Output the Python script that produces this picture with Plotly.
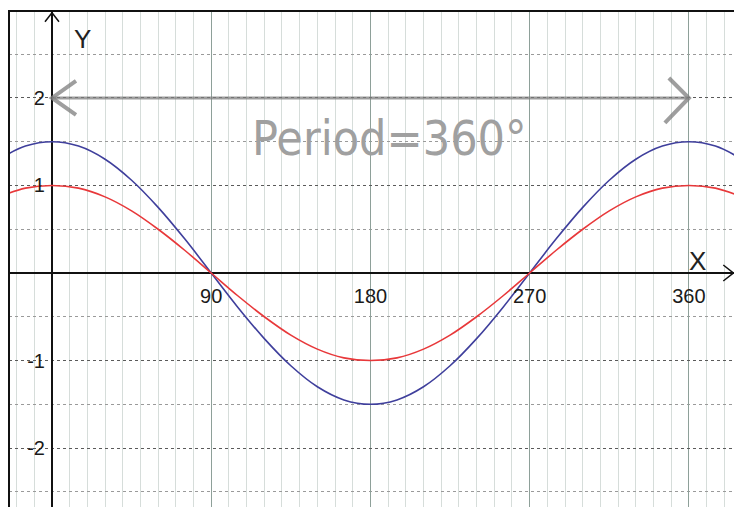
import plotly.graph_objects as go

# values (degrees / y)
x_deg = [-30, -15, 0, 15, 30, 45, 60, 75, 90, 105, 120, 135, 150, 165, 180,
         195, 210, 225, 240, 255, 270, 285, 300, 315, 330, 345, 360, 375, 390]
red_y = [0.87, 0.97, 1.0, 0.97, 0.87, 0.71, 0.5, 0.26, 0.0, -0.26, -0.5, -0.71, -0.87, -0.97, -1.0,
         -0.97, -0.87, -0.71, -0.5, -0.26, 0.0, 0.26, 0.5, 0.71, 0.87, 0.97, 1.0, 0.97, 0.87]
blue_y = [1.3, 1.45, 1.5, 1.45, 1.3, 1.06, 0.75, 0.39, 0.0, -0.39, -0.75, -1.06, -1.3, -1.45, -1.5,
          -1.45, -1.3, -1.06, -0.75, -0.39, 0.0, 0.39, 0.75, 1.06, 1.3, 1.45, 1.5, 1.45, 1.3]

x_ticks = [90, 180, 270, 360]
x_tick_text = ["90", "180", "270", "360"]
y_ticks = [2, 1, -1, -2]
y_tick_text = ["2", "1", "-1", "-2"]

period_start = 0
period_end = 360
period_label = "Period=360°"

W, H = 734, 507
x_range = [-24.3, 385.5]
y_range = [-2.674, 2.994]
x_dom = [9 / W, 1]
y_dom = [0, 1 - 11 / H]

# where the zero lines sit, as paper fractions
x0_frac = x_dom[0] + (x_dom[1] - x_dom[0]) * (0 - x_range[0]) / (x_range[1] - x_range[0])
y0_frac = y_dom[0] + (y_dom[1] - y_dom[0]) * (0 - y_range[0]) / (y_range[1] - y_range[0])

fig = go.Figure()
fig.add_trace(go.Scatter(x=x_deg, y=blue_y, mode="lines",
                         line=dict(color="#3f3f9c", width=1.6, shape="spline", smoothing=1)))
fig.add_trace(go.Scatter(x=x_deg, y=red_y, mode="lines",
                         line=dict(color="#e8383a", width=1.6, shape="spline", smoothing=1)))

tick_font = dict(family="Liberation Sans, Arial, sans-serif", size=20, color="#1a1a1a")

fig.update_xaxes(
    range=x_range, domain=x_dom, anchor="free", position=y0_frac,
    tickmode="array", tickvals=x_ticks, ticktext=x_tick_text, tickfont=tick_font,
    ticks="outside", ticklen=5, tickcolor="rgba(0,0,0,0)",
    showgrid=True, gridcolor="#8ea099", gridwidth=1,
    minor=dict(tick0=0, dtick=10, showgrid=True, gridcolor="#d6ddda", gridwidth=1),
    zeroline=True, zerolinecolor="#111", zerolinewidth=2, showline=False,
)
fig.update_yaxes(
    range=y_range, domain=y_dom, anchor="free", position=x0_frac,
    tickmode="array", tickvals=y_ticks, ticktext=y_tick_text, tickfont=tick_font,
    ticks="outside", ticklen=3, tickcolor="rgba(0,0,0,0)",
    showgrid=True, gridcolor="#5a5a5a", gridwidth=1, griddash="dot",
    minor=dict(tick0=0, dtick=0.5, showgrid=True, gridcolor="#9a9a9a", gridwidth=1, griddash="dot"),
    zeroline=True, zerolinecolor="#111", zerolinewidth=2, showline=False,
)

shapes = [
    # paper frame
    dict(type="rect", xref="paper", yref="paper", x0=x_dom[0], x1=1.05, y0=-0.05, y1=y_dom[1],
         line=dict(color="#111", width=2)),
    # axis arrowheads
    dict(type="path", xref="x", yref="y", xsizemode="pixel", ysizemode="pixel",
         xanchor=x_range[1] - 0.4, yanchor=0, path="M -10,8 L 0,0 L -10,-8",
         line=dict(color="#111", width=1.5)),
    dict(type="path", xref="x", yref="y", xsizemode="pixel", ysizemode="pixel",
         xanchor=0, yanchor=y_range[1] - 0.02, path="M -7,-9 L 0,0 L 7,-9",
         line=dict(color="#111", width=1.5)),
    # hand drawn period arrow
    dict(type="line", xref="x", yref="y", x0=period_start, x1=period_end, y0=2, y1=2,
         line=dict(color="rgba(125,125,125,0.75)", width=3)),
    dict(type="path", xref="x", yref="y", xsizemode="pixel", ysizemode="pixel",
         xanchor=period_start, yanchor=2, path="M 24,17 L 0,0 L 24,-17",
         line=dict(color="rgba(125,125,125,0.75)", width=4)),
    dict(type="path", xref="x", yref="y", xsizemode="pixel", ysizemode="pixel",
         xanchor=period_end, yanchor=2, path="M -20,20 L 0,0 L -24,-25",
         line=dict(color="rgba(125,125,125,0.75)", width=4)),
]

annotations = [
    dict(x=17, y=2.67, text="Y", showarrow=False,
         font=dict(family="Liberation Sans, Arial, sans-serif", size=26, color="#222")),
    dict(x=365, y=0.14, text="X", showarrow=False,
         font=dict(family="Liberation Sans, Arial, sans-serif", size=26, color="#222")),
    dict(x=191, y=1.54, text=period_label, showarrow=False,
         font=dict(family="Liberation Sans Narrow, DejaVu Sans Condensed, sans-serif",
                   size=48, color="#a0a0a0")),
]

fig.update_layout(
    width=W, height=H,
    margin=dict(l=0, r=0, t=0, b=0),
    paper_bgcolor="white", plot_bgcolor="white",
    showlegend=False,
    shapes=shapes, annotations=annotations,
)

# drop the page's default body margin so the figure fills the window
fig.write_html("out.html", config={"displayModeBar": False},
               post_script="document.body.style.margin='0';")
